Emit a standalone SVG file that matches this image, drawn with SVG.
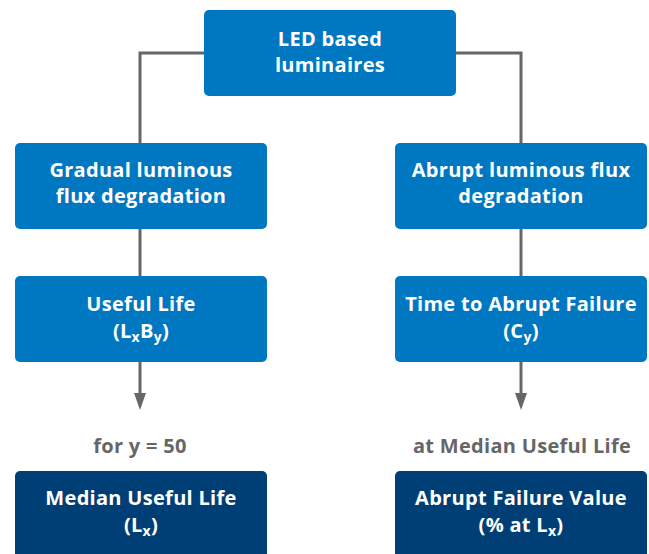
<svg xmlns="http://www.w3.org/2000/svg" width="649" height="554" viewBox="0 0 649 554">
<style>
.box{fill:#0077C1}
.dark{fill:#003F75}
.t{font-family:"Open Sans","Liberation Sans",sans-serif;font-weight:700;font-size:20px;letter-spacing:0.3px;fill:#fff;text-anchor:middle}
.sub{font-size:14px}
.lbl{font-family:"Open Sans","Liberation Sans",sans-serif;font-weight:700;font-size:20px;letter-spacing:0.3px;fill:#666;text-anchor:middle}
.c{fill:none;stroke:#666;stroke-width:3}
</style>
<rect width="649" height="554" fill="#fff"/>
<g id="connectors">
<path class="c" d="M205,53 H140 V144"/>
<path class="c" d="M455,53 H521 V144"/>
<path class="c" d="M140,229 V277"/>
<path class="c" d="M521,229 V277"/>
<path d="M140,362 V394" stroke="#666" stroke-width="3"/>
<path d="M134,393 H146 L140,410 Z" fill="#666"/>
<path d="M521,362 V394" stroke="#666" stroke-width="3"/>
<path d="M515,393 H527 L521,410 Z" fill="#666"/>
</g>
<g id="n-led">
<rect class="box" x="204" y="10" width="252" height="86" rx="5"/>
<text class="t" x="330" y="46">LED based</text>
<text class="t" x="330" y="72">luminaires</text>
</g>
<g id="n-gradual">
<rect class="box" x="15" y="143" width="252" height="86" rx="5"/>
<text class="t" x="141" y="177">Gradual luminous</text>
<text class="t" x="141" y="203">flux degradation</text>
</g>
<g id="n-abrupt">
<rect class="box" x="395" y="143" width="252" height="86" rx="5"/>
<text class="t" x="521" y="177">Abrupt luminous flux</text>
<text class="t" x="521" y="203">degradation</text>
</g>
<g id="n-useful">
<rect class="box" x="15" y="276" width="252" height="86" rx="5"/>
<text class="t" x="141" y="311">Useful Life</text>
<text class="t" x="141" y="338">(L<tspan class="sub" dy="4">x</tspan><tspan dy="-4">B</tspan><tspan class="sub" dy="4">y</tspan><tspan dy="-4">)</tspan></text>
</g>
<g id="n-time">
<rect class="box" x="395" y="276" width="252" height="86" rx="5"/>
<text class="t" x="521" y="311">Time to Abrupt Failure</text>
<text class="t" x="521" y="338">(C<tspan class="sub" dy="4">y</tspan><tspan dy="-4">)</tspan></text>
</g>
<g id="l-for">
<text class="lbl" x="140" y="453">for y = 50</text>
</g>
<g id="l-at">
<text class="lbl" x="522" y="453">at Median Useful Life</text>
</g>
<g id="n-median">
<rect class="dark" x="15" y="471" width="252" height="95" rx="5"/>
<text class="t" x="141" y="505">Median Useful Life</text>
<text class="t" x="141" y="532">(L<tspan class="sub" dy="4">x</tspan><tspan dy="-4">)</tspan></text>
</g>
<g id="n-value">
<rect class="dark" x="395" y="471" width="252" height="95" rx="5"/>
<text class="t" x="521" y="505">Abrupt Failure Value</text>
<text class="t" x="521" y="532">(% at L<tspan class="sub" dy="4">x</tspan><tspan dy="-4">)</tspan></text>
</g>
</svg>
